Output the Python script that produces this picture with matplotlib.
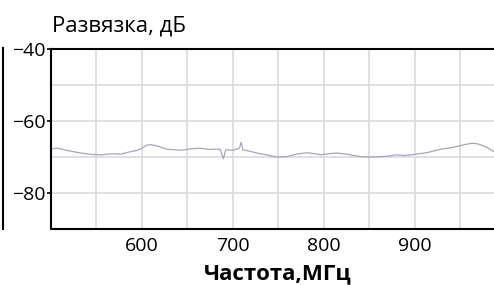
import matplotlib

matplotlib.use("Agg")
import matplotlib.pyplot as plt
from matplotlib.lines import Line2D
from matplotlib.ticker import MultipleLocator

plt.rcParams["font.family"] = ["Open Sans", "DejaVu Sans"]

# isolation trace (MHz, dB)
freq_mhz = [500, 506, 520, 533, 545, 555, 566, 577, 586, 594, 600, 605, 610,
            616, 622, 627, 635, 643, 652, 660, 665, 674, 682, 686, 689.5, 692,
            700, 707, 709, 711, 720, 728, 737, 748, 759, 770, 781, 790, 797,
            805, 814, 825, 833, 841, 852, 863, 872, 880, 888, 896, 905, 913,
            921, 929, 938, 946, 954, 962, 968, 973, 979, 984, 990]
isolation_db = [-67.8, -67.5, -68.3, -68.9, -69.3, -69.4, -69.1, -69.2, -68.6,
                -68.2, -67.6, -66.7, -66.6, -66.9, -67.4, -67.8, -68.0, -68.1,
                -67.8, -67.6, -67.6, -67.9, -67.8, -67.9, -70.5, -68.0, -68.1,
                -67.6, -65.9, -68.0, -68.5, -69.0, -69.4, -70.0, -69.9, -69.2,
                -68.8, -69.1, -69.4, -69.1, -68.9, -69.2, -69.6, -69.9, -70.0,
                -69.9, -69.7, -69.4, -69.6, -69.4, -69.1, -68.8, -68.3, -67.8,
                -67.5, -67.1, -66.6, -66.2, -66.3, -66.7, -67.3, -68.1, -68.9]

x_ticks = [600, 700, 800, 900]
y_ticks = [-40, -60, -80]
x_lim = (500, 1000)
y_lim = (-90, -40)

title = "Развязка, дБ"
x_label = "Частота,МГц"

fig = plt.figure(figsize=(4.94, 2.85), dpi=100)
ax = fig.add_axes([0.1032, 0.1965, 0.921, 0.6316])

ax.plot(freq_mhz, isolation_db, color="#a4a4c2", lw=0.9)

ax.set_xlim(*x_lim)
ax.set_ylim(*y_lim)
ax.set_xticks(x_ticks)
ax.set_yticks(y_ticks)
ax.xaxis.set_minor_locator(MultipleLocator(50))
ax.yaxis.set_minor_locator(MultipleLocator(10))
ax.grid(True, which="both", color="#dcdce2", lw=1.3)
ax.set_axisbelow(True)

ax.tick_params(axis="y", which="major", length=3, width=1.2, pad=1,
               labelsize=14)
ax.tick_params(axis="x", which="major", length=0, pad=6, labelsize=14)
ax.tick_params(which="minor", length=0)

for side in ("left", "top", "bottom"):
    ax.spines[side].set_linewidth(1.5)
    ax.spines[side].set_color("black")
ax.spines["right"].set_visible(False)

fig.text(52 / 494, 1 - 32 / 285, title, fontsize=16, va="baseline",
         ha="left")
fig.text(278 / 494, 1 - 279 / 285, x_label, fontsize=16, weight="bold",
         va="baseline", ha="center")

# edge of the neighbouring panel cut off on the left
fig.add_artist(Line2D([2.5 / 494, 2.5 / 494], [1 - 48 / 285, 1 - 229 / 285],
                      transform=fig.transFigure, color="black", lw=1.5))

fig.savefig("out.png", dpi=100)
